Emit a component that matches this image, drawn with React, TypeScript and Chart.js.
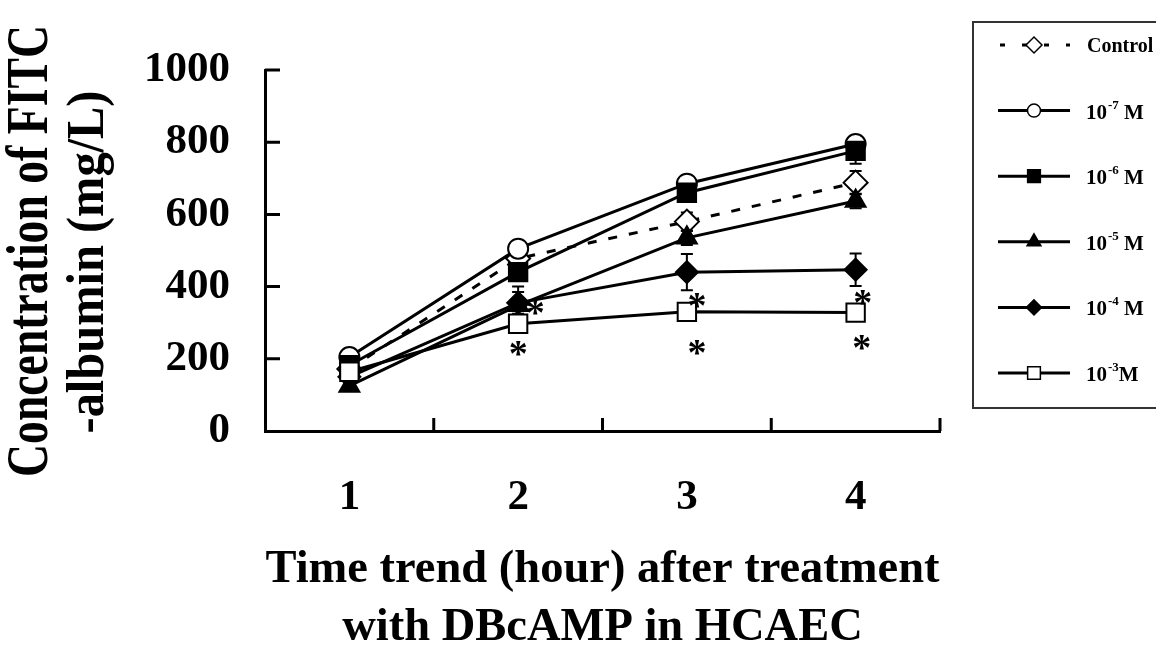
import React, { useEffect, useRef } from 'react';
import { Chart, registerables } from 'chart.js';

Chart.register(...registerables);

// ---------------- data ----------------
const categories = ['1', '2', '3', '4'];
const yTickValues = [0, 200, 400, 600, 800, 1000];

const controlValues = [172, 478, 580, 688];
const m7Values = [205, 505, 685, 795];
const m6Values = [182, 440, 660, 776];
const m5Values = [125, 348, 535, 637];
const m4Values = [150, 355, 440, 447];
const m3Values = [164, 297, 330, 328];

const controlErr = [10, 20, 25, 32];
const m7Err = [10, 15, 15, 15];
const m6Err = [10, 20, 15, 36];
const m5Err = [10, 52, 20, 20];
const m4Err = [10, 30, 50, 45];
const m3Err = [10, 15, 15, 15];

const legendBase = ['Control', '10', '10', '10', '10', '10'];
const legendSup = ['', '-7', '-6', '-5', '-4', '-3'];
const legendSuffix = ['', ' M', ' M', ' M', ' M', 'M'];

// significance asterisks: category index and value
const starCategory = [1, 2, 3, 1, 2, 3];
const starValue = [344, 364, 372, 231, 233, 247];

const yTitleLines = ['Concentration of FITC', '-albumin (mg/L)'];
const xTitleLines = ['Time trend (hour) after treatment', 'with DBcAMP in HCAEC'];

// ---------------- styles ----------------
const SERIF = '"Liberation Serif", "Times New Roman", serif';
const starDx = [17, 10, 7, 0, 10, 6];

type Style = {
  pointStyle: string;
  fill: string;
  radius: number;
  legendRadius: number;
  dash: number[];
};

const styles: Style[] = [
  { pointStyle: 'rectRot', fill: '#ffffff', radius: 12, legendRadius: 8, dash: [9, 12] },
  { pointStyle: 'circle', fill: '#ffffff', radius: 10, legendRadius: 6.5, dash: [] },
  { pointStyle: 'rect', fill: '#000000', radius: 13, legendRadius: 9, dash: [] },
  { pointStyle: 'triangle', fill: '#000000', radius: 11.5, legendRadius: 8, dash: [] },
  { pointStyle: 'rectRot', fill: '#000000', radius: 11, legendRadius: 7.5, dash: [] },
  { pointStyle: 'rect', fill: '#ffffff', radius: 13, legendRadius: 9, dash: [] },
];

const allValues = [controlValues, m7Values, m6Values, m5Values, m4Values, m3Values];
const allErrs = [controlErr, m7Err, m6Err, m5Err, m4Err, m3Err];

function drawMarker(ctx: CanvasRenderingContext2D, style: string, x: number, y: number, r: number, fill: string) {
  ctx.save();
  ctx.fillStyle = fill;
  ctx.strokeStyle = '#000';
  ctx.lineWidth = 1.5;
  ctx.beginPath();
  if (style === 'circle') {
    ctx.arc(x, y, r, 0, Math.PI * 2);
  } else if (style === 'rect') {
    const s = r * Math.SQRT1_2;
    ctx.rect(x - s, y - s, 2 * s, 2 * s);
  } else if (style === 'rectRot') {
    ctx.moveTo(x - r, y);
    ctx.lineTo(x, y - r);
    ctx.lineTo(x + r, y);
    ctx.lineTo(x, y + r);
    ctx.closePath();
  } else if (style === 'triangle') {
    ctx.moveTo(x, y - r);
    ctx.lineTo(x + r * 0.866, y + r * 0.5);
    ctx.lineTo(x - r * 0.866, y + r * 0.5);
    ctx.closePath();
  }
  ctx.fill();
  ctx.stroke();
  ctx.restore();
}

const overlayPlugin = {
  id: 'overlay',
  beforeDraw(chart: any) {
    const ctx = chart.ctx;
    ctx.save();
    ctx.fillStyle = '#ffffff';
    ctx.fillRect(0, 0, chart.width, chart.height);
    ctx.restore();
  },
  beforeDatasetsDraw(chart: any) {
    const ctx = chart.ctx;
    const xs = chart.scales.x;
    const ys = chart.scales.y;
    ctx.save();
    ctx.strokeStyle = '#000';
    ctx.lineWidth = 2;
    allValues.forEach((vals, si) => {
      vals.forEach((v, i) => {
        const e = allErrs[si][i];
        if (!e) return;
        const x = xs.getPixelForValue(i);
        const y1 = ys.getPixelForValue(v + e);
        const y2 = ys.getPixelForValue(v - e);
        ctx.beginPath();
        ctx.moveTo(x, y1);
        ctx.lineTo(x, y2);
        ctx.moveTo(x - 6, y1);
        ctx.lineTo(x + 6, y1);
        ctx.moveTo(x - 6, y2);
        ctx.lineTo(x + 6, y2);
        ctx.stroke();
      });
    });
    ctx.restore();
  },
  afterDraw(chart: any) {
    const ctx = chart.ctx;
    const xs = chart.scales.x;
    const ys = chart.scales.y;
    const area = chart.chartArea;
    ctx.save();
    // inward tick marks
    ctx.strokeStyle = '#000';
    ctx.lineWidth = 3;
    ctx.beginPath();
    yTickValues.forEach((v) => {
      if (v === 0) return;
      const y = ys.getPixelForValue(v);
      ctx.moveTo(area.left, y);
      ctx.lineTo(area.left + 15, y);
    });
    for (let i = 0; i < categories.length; i++) {
      const x = xs.getPixelForValue(i + 0.5);
      ctx.moveTo(x, area.bottom);
      ctx.lineTo(x, area.bottom - 13);
    }
    ctx.stroke();

    // asterisks
    ctx.fillStyle = '#000';
    ctx.font = `bold 38px ${SERIF}`;
    ctx.textAlign = 'center';
    ctx.textBaseline = 'alphabetic';
    starCategory.forEach((c, i) => {
      const x = xs.getPixelForValue(c) + starDx[i];
      const y = ys.getPixelForValue(starValue[i]);
      ctx.fillText('*', x, y + 18);
    });

    // x title
    ctx.font = `bold 46.5px ${SERIF}`;
    ctx.textAlign = 'center';
    const cx = (area.left + area.right) / 2;
    ctx.fillText(xTitleLines[0], cx, 582);
    ctx.fillText(xTitleLines[1], cx, 640);

    // y title (rotated, slightly stretched across the glyph height)
    const yt = [
      { len: 452, k: 1.3, bx: 47, cy: 251 },
      { len: 343, k: 1.1, bx: 103, cy: 262 },
    ];
    yt.forEach((t, i) => {
      ctx.save();
      ctx.font = `bold 100px ${SERIF}`;
      const w100 = ctx.measureText(yTitleLines[i]).width;
      const size = (100 * t.len) / w100;
      ctx.translate(t.bx, t.cy);
      ctx.rotate(-Math.PI / 2);
      ctx.scale(1, t.k);
      ctx.font = `bold ${size}px ${SERIF}`;
      ctx.textAlign = 'center';
      ctx.textBaseline = 'alphabetic';
      ctx.fillText(yTitleLines[i], 0, 0);
      ctx.restore();
    });

    // legend
    const lx = 973;
    const ly = 22;
    const lh = 386;
    ctx.strokeStyle = '#333';
    ctx.lineWidth = 2;
    ctx.strokeRect(lx, ly, 220, lh);
    const step = 65.6;
    for (let i = 0; i < legendBase.length; i++) {
      const y = ly + 23 + i * step;
      const st = styles[i];
      ctx.strokeStyle = '#000';
      ctx.lineWidth = 3;
      ctx.setLineDash(i === 0 ? [5, 17] : []);
      ctx.beginPath();
      ctx.moveTo(i === 0 ? 1000 : 998, y);
      ctx.lineTo(1070, y);
      ctx.stroke();
      ctx.setLineDash([]);
      drawMarker(ctx, st.pointStyle, 1034, y, st.legendRadius, st.fill);
      ctx.fillStyle = '#000';
      ctx.textAlign = 'left';
      ctx.textBaseline = 'alphabetic';
      if (i === 0) {
        ctx.font = `bold 20px ${SERIF}`;
        ctx.fillText(legendBase[i], 1087, y + 7);
      } else {
        ctx.font = `bold 21px ${SERIF}`;
        ctx.fillText(legendBase[i], 1086, y + 8);
        let x = 1086 + ctx.measureText(legendBase[i]).width + 1;
        ctx.font = `bold 13px ${SERIF}`;
        ctx.fillText(legendSup[i], x, y - 2);
        x += ctx.measureText(legendSup[i]).width;
        ctx.font = `bold 21px ${SERIF}`;
        ctx.fillText(legendSuffix[i], x, y + 8);
      }
    }
    ctx.restore();
  },
};

export default function App() {
  const ref = useRef<HTMLCanvasElement | null>(null);
  useEffect(() => {
    if (!ref.current) return;
    const n = allValues.length;
    const chart = new Chart(ref.current, {
      type: 'line',
      data: {
        labels: categories,
        datasets: allValues.map((vals, i) => ({
          label: legendBase[i] + legendSup[i] + legendSuffix[i],
          data: vals,
          order: n - 1 - i,
          borderColor: '#000',
          borderWidth: 3,
          borderDash: styles[i].dash,
          tension: 0,
          fill: false,
          pointStyle: styles[i].pointStyle as any,
          pointRadius: styles[i].radius,
          pointBackgroundColor: styles[i].fill,
          pointBorderColor: '#000',
          pointBorderWidth: 2,
        })),
      },
      options: {
        animation: false,
        responsive: false,
        devicePixelRatio: 1,
        layout: { padding: { left: 0, top: 70, right: 216, bottom: 0 } },
        plugins: {
          legend: { display: false },
          tooltip: { enabled: false },
          title: { display: false },
        },
        scales: {
          x: {
            type: 'category',
            offset: true,
            grid: { display: false, drawTicks: false },
            border: { display: true, color: '#000', width: 3 },
            ticks: {
              color: '#000',
              font: { family: SERIF, weight: 'bold', size: 43 },
              padding: 41,
              maxRotation: 0,
            },
            afterFit: (s: any) => {
              s.height = 214;
            },
          },
          y: {
            min: 0,
            max: 1000,
            grid: { display: false, drawTicks: false },
            border: { display: true, color: '#000', width: 3 },
            ticks: {
              stepSize: 200,
              color: '#000',
              font: { family: SERIF, weight: 'bold', size: 43 },
              padding: 35,
              callback: (v: any) => String(v),
            },
            afterFit: (s: any) => {
              s.width = 265;
            },
          },
        },
      },
      plugins: [overlayPlugin],
    });
    return () => chart.destroy();
  }, []);
  return (
    <div style={{ position: 'fixed', left: 0, top: 0, width: 1156, height: 645, background: '#fff' }}>
      <canvas ref={ref} width={1156} height={645} style={{ display: 'block', width: 1156, height: 645 }} />
    </div>
  );
}
